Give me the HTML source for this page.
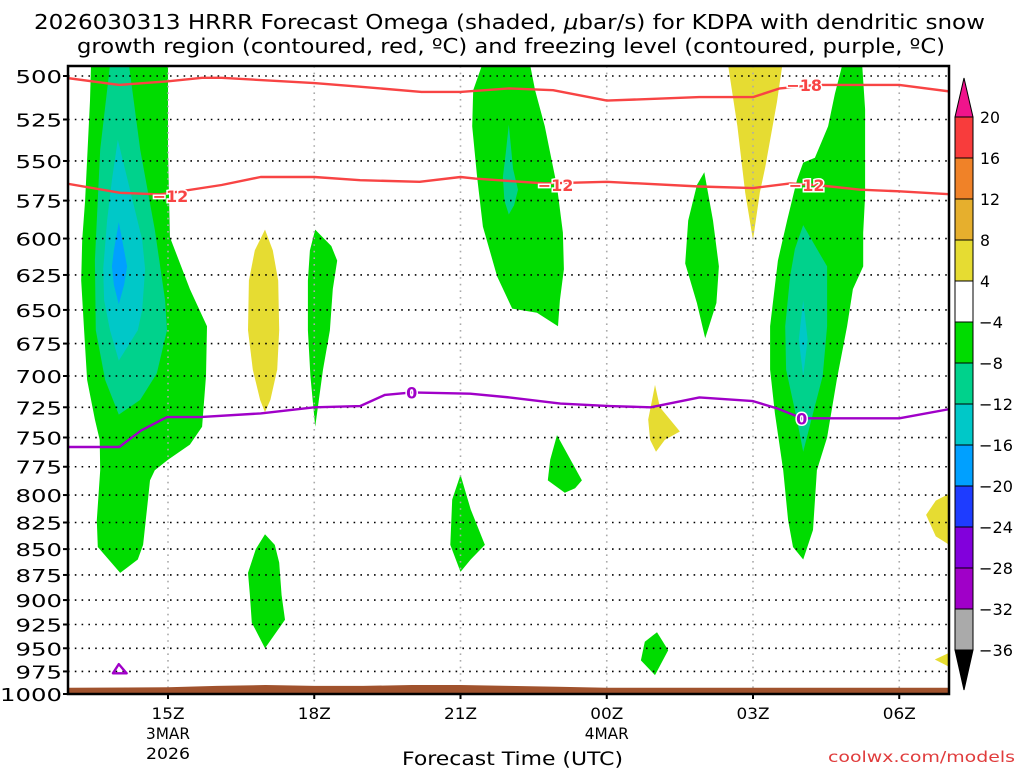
<!DOCTYPE html>
<html><head><meta charset="utf-8"><style>
html,body{margin:0;padding:0;background:#fff;}
svg{display:block;font-family:"DejaVu Sans","Liberation Sans",sans-serif;}
</style></head><body>
<svg id="chart" width="1024" height="768" viewBox="0 0 1024 768" xmlns="http://www.w3.org/2000/svg">
<text x="34" y="29" font-size="20" textLength="951" lengthAdjust="spacingAndGlyphs" fill="#000">2026030313 HRRR Forecast Omega (shaded, <tspan font-style="italic">μ</tspan>bar/s) for KDPA with dendritic snow</text>
<text x="77" y="53" font-size="20" textLength="868" lengthAdjust="spacingAndGlyphs" fill="#000">growth region (contoured, red, ºC) and freezing level (contoured, purple, ºC)</text>
<g id="fills"></g>
<g id="grid"></g>
<g id="lines"></g>
<g id="axes"></g>
<g id="cbar"></g>
<text x="402" y="765" font-size="19" textLength="221" lengthAdjust="spacingAndGlyphs" fill="#000">Forecast Time (UTC)</text>
<text x="828" y="762" font-size="15" textLength="187" lengthAdjust="spacingAndGlyphs" fill="#e03c3c">coolwx.com/models</text>
</svg>
<script>
// ---- data ----
const pressureTicks=[500,525,550,575,600,625,650,675,700,725,750,775,800,825,850,875,900,925,950,975,1000];
const hourTicks=[15,18,21,24,27,30];
const hourTickLabels=["15Z","18Z","21Z","00Z","03Z","06Z"];
const dateLabels={15:["3MAR","2026"],24:["4MAR"]};
const cbarLevels=[20,16,12,8,4,-4,-8,-12,-16,-20,-24,-28,-32,-36];
const cbarColors=["#f83c3c","#f08228","#e6af2d","#e6dc32","#ffffff","#00dc00","#00d28c","#00c8c8","#00a0ff","#1e3cff","#8200dc","#a000c8","#aaaaaa"];
// omega regions: [hour, pressure] vertices
const regionGreenA=[[13.42,494],[15,494],[15,543],[15.04,599],[15.45,635],[15.8,662],[15.78,700],[15.7,741],[15.45,756],[15,769],[14.73,778],[14.63,787],[14.59,804],[14.49,846],[14.38,860],[14.02,873],[13.56,848],[13.54,823],[13.61,778],[13.6,752],[13.5,735],[13.34,703],[13.28,665],[13.22,629],[13.24,601],[13.3,575],[13.4,514]];
const regionTealA=[[13.81,494],[14.2,494],[14.43,543],[14.73,594],[14.94,643],[14.98,665],[14.77,698],[14.43,719],[13.99,731],[13.71,703],[13.52,665],[13.5,615],[13.61,543]];
const regionCyanA=[[13.97,537],[14.22,568],[14.47,601],[14.53,621],[14.47,650],[14.38,665],[13.99,688],[13.81,665],[13.69,643],[13.67,621],[13.75,588],[13.85,562]];
const regionBlueA=[[13.99,589],[14.1,608],[14.16,619],[14.1,632],[13.99,646],[13.89,632],[13.85,619],[13.89,608]];
const regionYellowB=[[16.99,594],[17.15,608],[17.26,629],[17.28,665],[17.24,695],[17.1,719],[16.99,729],[16.89,719],[16.74,695],[16.64,665],[16.66,629],[16.78,608]];
const regionGreenC=[[18.02,594],[18.35,605],[18.47,615],[18.38,635],[18.32,665],[18.18,695],[18.02,741],[17.92,700],[17.87,665],[17.87,629],[17.91,608]];
const regionGreenD=[[16.99,836],[17.19,846],[17.28,863],[17.33,895],[17.4,920],[16.99,950],[16.72,923],[16.68,895],[16.64,873],[16.8,850]];
const regionGreenE=[[21.44,494],[22.43,494],[22.53,508],[22.73,529],[22.98,566],[23.1,596],[23.12,621],[23.04,643],[23.0,662],[22.57,652],[22.06,649],[21.75,626],[21.46,592],[21.34,560],[21.24,529],[21.26,508]];
const regionTealE=[[21.99,528],[22.08,555],[22.18,568],[22.1,578],[21.99,584],[21.9,575],[21.87,560],[21.93,545]];
const regionGreenF=[[26.0,557],[26.18,588],[26.3,619],[26.25,645],[26.02,671],[25.85,645],[25.61,617],[25.67,588],[25.85,565]];
const regionYellowG=[[26.49,494],[27.6,494],[27.49,515],[27.25,554],[27.14,570],[27.0,601],[26.84,570],[26.68,529]];
const regionGreenH=[[28.83,494],[29.24,494],[29.3,519],[29.3,572],[29.26,596],[29.26,619],[29.05,635],[28.93,662],[28.72,703],[28.52,750],[28.31,778],[28.23,832],[28.03,860],[27.82,848],[27.72,823],[27.62,778],[27.45,730],[27.35,695],[27.35,662],[27.51,615],[27.7,588],[27.9,562],[28.03,551],[28.27,548],[28.54,529],[28.68,510]];
const regionTealH=[[28.03,591],[28.31,607],[28.52,619],[28.52,662],[28.43,700],[28.23,730],[28.03,762],[27.9,735],[27.68,695],[27.66,662],[27.76,626],[27.86,607]];
const regionCyanH=[[28.03,643],[28.12,672],[28.03,700],[27.94,672]];
const regionYellowI=[[24.99,707],[25.09,725],[25.5,745],[25.19,752],[25.01,762],[24.89,752],[24.85,735],[24.93,719]];
const regionGreenJ=[[22.98,748],[23.49,787],[23.35,794],[23.14,798],[22.79,787],[22.84,769]];
const regionGreenK=[[21.0,782],[21.21,813],[21.5,846],[21.21,860],[21.0,872],[20.79,846],[20.83,804]];
const regionGreenL=[[25.03,933],[25.26,952],[24.99,979],[24.7,963],[24.78,943]];
const regionYellowM=[[31.1,797],[30.75,805],[30.55,818],[30.75,838],[31.1,848]];
const regionYellowN=[[31.1,953],[30.73,962],[31.1,972]];
// contour lines
const lineHours18=[12.9,14,15,15.7,16.1,18,18.9,20.2,21,22,22.9,24,25.9,27,27.55,28.3,30,31.1];
const linePres18=[501,505,503,501,501,504,506,509,509,507,508,514,512,512,507,505,505,509];
const lineHours12=[12.9,14.02,14.84,16.1,16.9,18,18.94,20.16,21,21.3,22.73,24,25.9,27,27.76,28.3,29.2,30,31.1];
const linePres12=[564,570,571,565,560,560,562,563,560,561,564,563,566,567,564,565,568,569,571];
const lineHours0=[12.9,14.0,14.45,14.98,15.66,16.9,18,18.94,19.45,20.0,21.2,22,23.05,24.06,24.9,25.9,27,27.5,28.0,28.4,29,30,31.1];
const linePres0=[758,758,744,733,733,730,725,724,715,713,714,717,722,724,725,717,720,726,734,734,734,734,726];
const labels18=[[28.05,505,"−18"]];
const labels12=[[15.05,572,"−12"],[22.95,565,"−12"],[28.1,565,"−12"]];
const labels0=[[20.0,713,"0"],[28.0,734,"0"]];
const loopHours0=[13.99,14.15,13.87];
const loopPres0=[967,977,977];
const terrainHours=[12.9,15,16,17,18,19,20,21,22,23,24,26,27,31.1];
const terrainPres=[993,992.5,991,990,991,991,990,990,991,992,993,993,993,993];
// ---- scales ----
const X0=68,X1=949,Y0=66,Y1=694;
function xs(h){return 168+(h-15)*48.75;}
function ys(p){return 76+891.6*Math.log(p/500);}
const NS="http://www.w3.org/2000/svg";
function mk(tag,attrs,parent){const e=document.createElementNS(NS,tag);for(const k in attrs)e.setAttribute(k,attrs[k]);parent.appendChild(e);return e;}
const svg=document.getElementById('chart');
const defs=mk('defs',{},svg);
const cp=mk('clipPath',{id:'plotclip'},defs);
mk('rect',{x:X0,y:Y0,width:X1-X0,height:Y1-Y0},cp);
// fills
const fills=document.getElementById('fills');
fills.setAttribute('clip-path','url(#plotclip)');
const regions=[[regionGreenA,5],[regionTealA,6],[regionCyanA,7],[regionBlueA,8],[regionYellowB,3],[regionGreenC,5],[regionGreenD,5],[regionGreenE,5],[regionTealE,6],[regionGreenF,5],[regionYellowG,3],[regionGreenH,5],[regionTealH,6],[regionCyanH,7],[regionYellowI,3],[regionGreenJ,5],[regionGreenK,5],[regionGreenL,5],[regionYellowM,3],[regionYellowN,3]];
regions.forEach(([pts,ci])=>{
  const d=pts.map((q,i)=>(i?'L':'M')+xs(q[0]).toFixed(1)+','+ys(q[1]).toFixed(1)).join('')+'Z';
  const el=mk('path',{d:d,fill:cbarColors[ci]},fills);
  
  
});
// grid
const grid=document.getElementById('grid');
pressureTicks.forEach(p=>{if(p===1000)return;
  const el=mk('line',{x1:X0,x2:X1,y1:ys(p),y2:ys(p),stroke:'#000','stroke-width':1.6,'stroke-dasharray':'1.6 5.2'},grid);
  
  
});
hourTicks.forEach(h=>{
  const el=mk('line',{x1:xs(h),x2:xs(h),y1:Y0,y2:Y1,stroke:'#aaa','stroke-width':1.6,'stroke-dasharray':'1.6 5'},grid);
  
  
});
// terrain
{const pts=terrainHours.map((h,i)=>xs(h).toFixed(1)+','+ys(terrainPres[i]).toFixed(1));
const el=mk('polygon',{points:pts.join(' ')+' '+xs(31.1)+','+Y1+' '+xs(12.9)+','+Y1,fill:'#a0522d','clip-path':'url(#plotclip)'},grid);

}
// lines
const lines=document.getElementById('lines');
lines.setAttribute('clip-path','url(#plotclip)');
function drawLine(hs,ps,color,name){
  const d=hs.map((h,i)=>(i?'L':'M')+xs(h).toFixed(1)+','+ys(ps[i]).toFixed(1)).join('');
  const el=mk('path',{d:d,fill:'none',stroke:color,'stroke-width':2.4,'stroke-linejoin':'round'},lines);
  
  
}
drawLine(lineHours18,linePres18,'#f84444','contour-minus18');
drawLine(lineHours12,linePres12,'#f84444','contour-minus12');
drawLine(lineHours0,linePres0,'#a000c8','freezing-level-0c');
{const d=loopHours0.map((h,i)=>(i?'L':'M')+xs(h).toFixed(1)+','+ys(loopPres0[i]).toFixed(1)).join('')+'Z';
const el=mk('path',{d:d,fill:'none',stroke:'#a000c8','stroke-width':2.4,'stroke-linejoin':'round'},lines);

}
function drawLabels(arr,color,name){arr.forEach(([h,p,t])=>{
  const el=mk('text',{x:xs(h),y:ys(p)+6,'font-size':16,'font-weight':'bold','text-anchor':'middle',fill:color,stroke:'#fff','stroke-width':3,'paint-order':'stroke'},lines);
  el.textContent=t;
  
  
});}
drawLabels(labels18,'#f84444','contour-label-minus18');
drawLabels(labels12,'#f84444','contour-label-minus12');
drawLabels(labels0,'#a000c8','contour-label-0');
// axes
const axes=document.getElementById('axes');
{const el=mk('rect',{x:X0,y:Y0,width:X1-X0,height:Y1-Y0,fill:'none',stroke:'#000','stroke-width':2.5},axes);

}
pressureTicks.forEach(p=>{
  const t=mk('line',{x1:X0-5,x2:X0,y1:ys(p),y2:ys(p),stroke:'#000','stroke-width':2},axes);
  
  
  const s=String(p);
  const w=s.length*15.5;
  const el=mk('text',{x:62-w,y:ys(p)+7,'font-size':18,fill:'#000',textLength:w,lengthAdjust:'spacingAndGlyphs'},axes);
  el.textContent=s;
  
  
});
hourTicks.forEach((h,i)=>{
  const t=mk('line',{x1:xs(h),x2:xs(h),y1:Y1,y2:Y1+5,stroke:'#000','stroke-width':2},axes);
  
  
  const el=mk('text',{x:xs(h)-16.5,y:719,'font-size':16,fill:'#000',textLength:33,lengthAdjust:'spacingAndGlyphs'},axes);
  el.textContent=hourTickLabels[i];
  
  
  (dateLabels[h]||[]).forEach((s,j)=>{
    const w=s.length*11;
    const d=mk('text',{x:xs(h)-w/2,y:739+j*20,'font-size':16,fill:'#000',textLength:w,lengthAdjust:'spacingAndGlyphs'},axes);
    d.textContent=s;
    
    
  });
});
// colorbar
const cbar=document.getElementById('cbar');
const CB0=955,CB1=973,step=41;
function cy(i){return 117+i*step;}
{const el=mk('polygon',{points:`${CB0},${cy(0)} ${CB1},${cy(0)} ${(CB0+CB1)/2},78`,fill:'#f0148c',stroke:'#000','stroke-width':1},cbar);

}
cbarColors.forEach((c,i)=>{
  const el=mk('rect',{x:CB0,y:cy(i),width:CB1-CB0,height:step,fill:c,stroke:'#000','stroke-width':1},cbar);
  
  
});
{const el=mk('polygon',{points:`${CB0},${cy(13)} ${CB1},${cy(13)} ${(CB0+CB1)/2},690`,fill:'#000',stroke:'#000','stroke-width':1},cbar);

}
cbarLevels.forEach((v,i)=>{
  const s=v<0?'−'+(-v):String(v);
  const w=(v<0?14:0)+String(Math.abs(v)).length*10;
  const el=mk('text',{x:v<0?979:980,y:cy(i)+6,'font-size':16,fill:'#000',textLength:w,lengthAdjust:'spacingAndGlyphs'},cbar);
  el.textContent=s;
  
  
});
</script>
</body></html>
